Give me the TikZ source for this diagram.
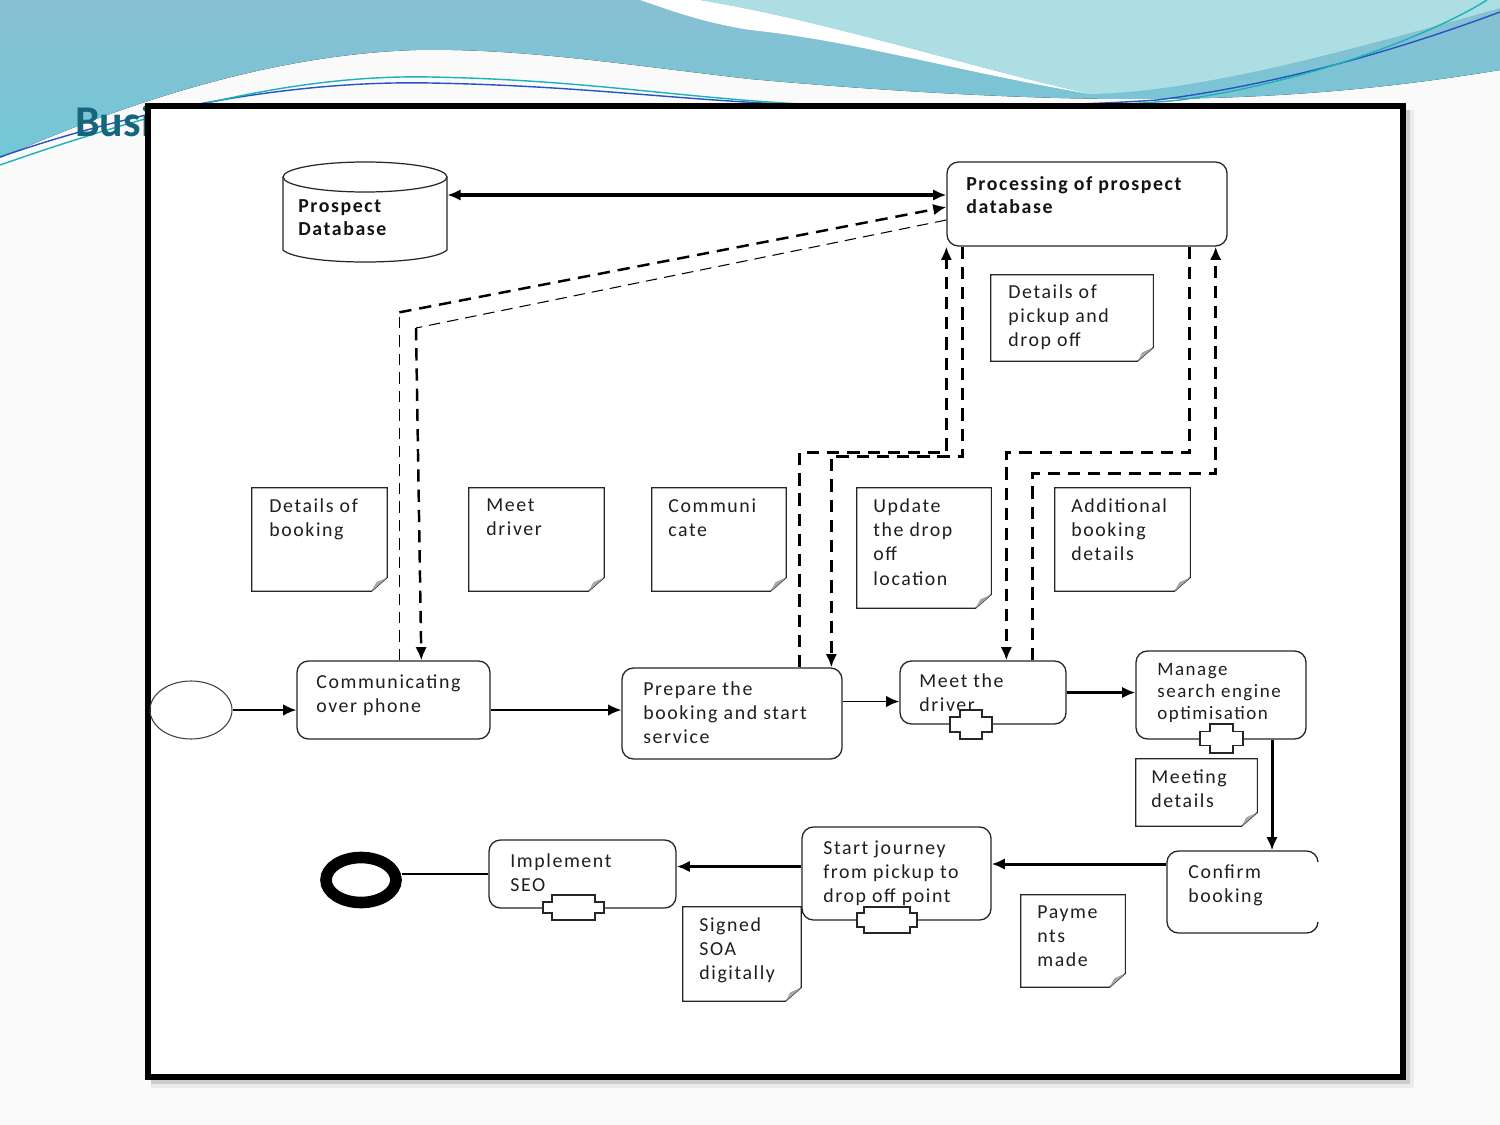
\documentclass[tikz,border=0pt]{standalone}
\usepackage{fontspec}
\setmainfont{Carlito}
\newfontfamily\dfont[LetterSpace=8]{Carlito}
\newfontfamily\hfont{Carlito}
\usetikzlibrary{arrows.meta,calc,fit,shapes.geometric}
\newcommand\pxu{0.02cm}
\definecolor{bgA}{HTML}{88BFD3}
\definecolor{bgB}{HTML}{72C8D6}
\definecolor{bgL}{HTML}{ACDEE3}
\definecolor{lnB}{HTML}{2A52C0}
\definecolor{lnT}{HTML}{1BB3B5}
\definecolor{ttl}{HTML}{17657D}
\tikzset{
  >={Latex[length=7.5pt,width=6.5pt]},
  task/.style={draw=black!85, line width=0.75pt, rounded corners=6.5pt, fill=white, inner sep=0pt},
  docfit/.style={inner sep=0pt, draw=none},
  docline/.style={draw=black!85, line width=0.7pt, fill=white},
  txt/.style={font=\dfont\fontsize{11.3}{13.9}\selectfont, anchor=north west, inner sep=0pt, align=left, text=black!88, yshift=-2*\pxu},
  txts/.style={font=\dfont\fontsize{10.8}{12.5}\selectfont, anchor=north west, inner sep=0pt, align=left, text=black!88, yshift=-2*\pxu},
  txtb/.style={font=\dfont\bfseries\fontsize{11.3}{13}\selectfont, anchor=north west, inner sep=0pt, align=left, text=black!92, yshift=-2*\pxu},
  subm/.style={draw=black!85, line width=0.7pt, fill=white},
  conn/.style={->, line width=0.9pt},
  connb/.style={->, line width=1.7pt},
  dthin/.style={line width=0.6pt, dash pattern=on 6.5pt off 4pt},
  dthick/.style={line width=1.4pt, dash pattern=on 7pt off 4.5pt},
  dC/.style={line width=1.9pt, dash pattern=on 7pt off 4.5pt},
  dD/.style={line width=1.5pt, dash pattern=on 7pt off 4.5pt},
}
\newcommand\docnode[8]{%
  \coordinate (#1-a) at (#2,#3);
  \coordinate (#1-b) at (#4,#5);
  \node[docfit, fit=(#1-a)(#1-b)] (#1) {};
  \draw[docline] (#1.north west) -- (#1.north east) -- ($(#1.south east)+(0,-14)$) -- ($(#1.south east)+(-16,0)$) -- (#1.south west) -- cycle;
  \fill[black!35] ($(#1.south east)+(0,-14)$) -- ($(#1.south east)+(-16,0)$) -- ($(#1.south east)+(-11,-9)$) -- cycle;
  \node[txt] (#1-t) at (#6,#7) {#8};
}
\newcommand\plusmark[6]{%
  \draw[subm] (#1,#2) ++({-#3/2},{-#4/2}) -- ++(#3,0) -- ++(0,{(#4-#6)/2}) -- ++({(#5-#3)/2},0) -- ++(0,#6) -- ++({-(#5-#3)/2},0) -- ++(0,{(#4-#6)/2}) -- ++(-#3,0) -- ++(0,{-(#4-#6)/2}) -- ++({-(#5-#3)/2},0) -- ++(0,-#6) -- ++({(#5-#3)/2},0) -- cycle;
}
\begin{document}
\begin{tikzpicture}[x=0.02cm,y=-0.02cm]
\useasboundingbox (0,0) rectangle (1500,1125);
% ---------- background ----------
\fill[white!98!black] (0,0) rectangle (1500,1125);
\fill[top color=bgA, bottom color=bgB] (0,0) -- (1500,0) -- (1500,70) .. controls (1350,95) and (1230,99) .. (1133,99) .. controls (1000,99) and (850,88) .. (750,79) .. controls (620,64) and (520,48) .. (416,50) .. controls (260,55) and (110,110) .. (0,158) -- cycle;
\fill[white] (640,0) -- (700,0) .. controls (830,22) and (950,62) .. (1090,94) .. controls (960,72) and (850,40) .. (750,30) .. controls (700,22) and (670,10) .. (640,0) -- cycle;
\fill[bgL] (700,0) -- (1500,0) -- (1500,8) .. controls (1350,50) and (1200,92) .. (1090,94) .. controls (950,62) and (830,22) .. (700,0) -- cycle;
\draw[lnB, line width=0.8pt] (0,157) .. controls (120,115) and (280,80) .. (430,83) .. controls (600,86) and (700,104) .. (850,106) .. controls (1000,108) and (1100,104) .. (1157,100) .. controls (1300,82) and (1430,38) .. (1500,12);
\draw[lnT, line width=0.8pt] (0,165) .. controls (130,120) and (280,74) .. (430,77) .. controls (600,80) and (700,102) .. (850,106) .. controls (1000,110) and (1120,106) .. (1180,100) .. controls (1320,80) and (1440,30) .. (1487,0);
\node[font=\hfont\bfseries\fontsize{25}{30}\selectfont, text=ttl, anchor=base west, inner sep=0pt] (title) at (75,137) {Busi};
% ---------- frame ----------
\fill[black!8] (151,110) rectangle (1414,1088);
\fill[black!20] (151,110) rectangle (1410,1084);
\draw[line width=3.4pt, fill=white] (148,106) rectangle (1403,1077);
% ---------- database & processing ----------
\fill[white] (283,177) -- (283,250) .. controls (300,266) and (430,266) .. (447,250) -- (447,177) -- cycle;
\draw[black!85, line width=0.7pt] (283,177) -- (283,250) .. controls (300,266) and (430,266) .. (447,250) -- (447,177);
\draw[black!85, line width=0.7pt, fill=white] (365,177) ellipse [x radius=82*\pxu, y radius=15*\pxu];
\node[docfit, fit={(283,162)(447,262)}] (pdb) {};
\node[txtb] (pdb-t) at (298,197) {Prospect\\Database};
\node[task, minimum width=280*\pxu, minimum height=84*\pxu] (proc) at (1087,204) {};
\node[txtb] (proc-t) at (966,174) {Processing of prospect\\database};
\coordinate (pdbE) at ($(pdb.east)+(0,-17)$);
\draw[<->, line width=2pt] (pdbE) -- (pdbE -| proc.west);
% ---------- tasks ----------
\node[draw=black!75, ellipse, line width=0.6pt, minimum width=82*\pxu, minimum height=58*\pxu, inner sep=0pt] (start) at (191,710) {};
\node[task, minimum width=193*\pxu, minimum height=78*\pxu] (comm) at (393.5,700) {};
\node[task, minimum width=220*\pxu, minimum height=91*\pxu] (prep) at (732,713.5) {};
\node[task, minimum width=166*\pxu, minimum height=63*\pxu] (meet) at (983,692.5) {};
\node[task, minimum width=170*\pxu, minimum height=88*\pxu] (mseo) at (1221,695) {};
\node[task, minimum width=151*\pxu, minimum height=82*\pxu] (conf) at (1242.5,892) {};
\draw[white, line width=2.5pt] ($(conf.north east)+(1,12)$) -- ($(conf.south east)+(1,-12)$);
\node[task, minimum width=189*\pxu, minimum height=93*\pxu] (jour) at (896.5,873.5) {};
\node[task, minimum width=187*\pxu, minimum height=68*\pxu] (impl) at (582.5,874) {};
\node[draw=black, ellipse, line width=6.6pt, minimum width=70*\pxu, minimum height=45*\pxu, inner sep=0pt] (end) at (361,880) {};
\plusmark{971}{724.5}{22}{29}{42}{15}
\plusmark{1221.5}{738.5}{23}{29}{43}{14}
\plusmark{887}{920}{46}{26}{60}{14}
\plusmark{573.5}{907.5}{43}{25}{61}{11}
\node[txt] (comm-t) at (316,672) {Communicating\\over phone};
\node[txt] (prep-t) at (643,679) {Prepare the\\booking and start\\service};
\node[txt] (meet-t) at (919,671) {Meet the\\driver};
\node[txts] (mseo-t) at (1157,661) {Manage\\search engine\\optimisation};
\node[txt] (conf-t) at (1188,862) {Confirm\\booking};
\node[txt] (jour-t) at (823,838) {Start journey\\from pickup to\\drop off point};
\node[txt] (impl-t) at (510,851) {Implement\\SEO};
% ---------- data objects ----------
\docnode{d6}{991}{275}{1153}{361}{1008}{282}{Details of\\pickup and\\drop off}
\docnode{d1}{252}{488}{387}{591}{269}{496}{Details of\\booking}
\docnode{d2}{469}{488}{604}{591}{486}{496}{Meet\\driver}
\docnode{d3}{652}{488}{786}{591}{668}{496}{Communi\\cate}
\docnode{d4}{857}{488}{991}{608}{873}{496}{Update\\the drop\\off\\location}
\docnode{d5}{1055}{488}{1190}{591}{1071}{496}{Additional\\booking\\details}
\docnode{d7}{1136}{759}{1257}{826}{1151}{767}{Meeting\\details}
\docnode{d8}{683}{907}{801}{1001}{699}{915}{Signed\\SOA\\digitally}
\docnode{d9}{1021}{895}{1125}{987}{1037}{903}{Payme\\nts\\made}
% ---------- sequence flows ----------
\draw[conn] (start.east) -- (start.east -| comm.west);
\draw[conn] (start.east -| comm.east) -- (start.east -| prep.west);
\coordinate (prepO) at ($(prep.east)+(0,-12)$);
\draw[conn] (prepO) -- (prepO -| meet.west);
\draw[connb] (meet.east) -- (meet.east -| mseo.west);
\coordinate (mseoO) at ($(mseo.south)+(51,0)$);
\draw[connb] (mseoO) -- (mseoO |- conf.north);
\coordinate (confO) at ($(conf.west)+(0,-28)$);
\draw[connb] (confO) -- (confO -| jour.east);
\coordinate (jourO) at ($(jour.west)+(0,-7)$);
\draw[connb] (jourO) -- (jourO -| impl.east);
\draw[line width=0.6pt] (impl.west) -- (impl.west -| end.east);
% ---------- message / data flows ----------
\draw[dthin] ($(comm.north west)+(103,0)$) -- ++(0,-348) coordinate (a1);
\draw[dthick,->] (a1) -- ($(proc.west)+(0,3)$);
\draw[dthin] ($(proc.west)+(0,16)$) -- (416,328) coordinate (b1);
\draw[dthick,->] (b1) -- ($(comm.north west)+(125,0)$);
\draw[dC,->] ($(prep.north west)+(178,0)$) |- ($(proc.south west)+(0,206)$) -- (proc.south west);
\draw[dD,->] ($(proc.south west)+(16,0)$) |- ($(prep.north west)+(210,-211)$) -- ($(prep.north west)+(210,0)$);
\draw[dD,->] ($(proc.south east)+(-38,0)$) |- ($(meet.north west)+(107,-208)$) -- ($(meet.north west)+(107,0)$);
\draw[dD,->] ($(meet.north west)+(133,0)$) |- ($(proc.south east)+(-12,227)$) -- ($(proc.south east)+(-12,0)$);
\end{tikzpicture}
\end{document}
